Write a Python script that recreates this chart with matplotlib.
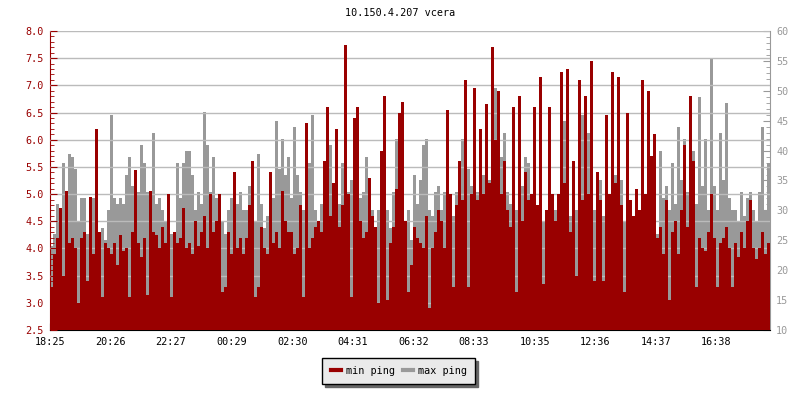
"""Recreate the ping chart for 10.150.4.207."""

import matplotlib

matplotlib.use("Agg")
import matplotlib.pyplot as plt
from matplotlib.lines import Line2D
from matplotlib.ticker import MultipleLocator, FormatStrFormatter
import numpy as np

RED = "#990000"
GRAY = "#999999"

TITLE = "10.150.4.207 vcera"
TICK_LABELS = ["18:25", "20:26", "22:27", "00:29", "02:30", "04:31",
               "06:32", "08:33", "10:35", "12:36", "14:37", "16:38"]
SPAN_MINUTES = 1440

# min ping (ms, left axis), one value per 6-minute slot
MIN_PING = [
    3.3, 3.9, 4.2, 4.75, 3.5, 5.05, 4.1, 4.2, 4.0, 3.0,
    4.2, 4.3, 3.4, 4.95, 3.9, 6.2, 4.3, 3.1, 4.1, 4.0,
    3.9, 4.1, 3.7, 4.25, 3.95, 4.0, 3.1, 4.3, 5.45, 4.1,
    3.85, 4.2, 3.15, 5.05, 4.3, 4.25, 4.0, 4.4, 4.1, 5.0,
    3.1, 4.3, 4.1, 4.2, 4.75, 4.0, 4.1, 3.9, 4.5, 4.05,
    4.3, 4.6, 4.0, 5.0, 4.3, 4.5, 5.0, 3.2, 3.3, 4.3,
    3.9, 5.4, 4.0, 4.2, 3.9, 4.2, 4.8, 5.6, 3.1, 3.3,
    4.4, 4.0, 3.9, 5.4, 4.1, 4.3, 4.0, 5.05, 4.5, 4.3,
    4.3, 3.9, 4.0, 4.8, 3.1, 6.3, 4.0, 4.2, 4.4, 4.5,
    4.3, 5.6, 6.6, 4.6, 5.2, 6.2, 4.4, 4.8, 7.75, 5.0,
    3.1, 6.4, 6.6, 4.5, 4.2, 4.3, 5.3, 4.6, 4.4, 3.0,
    5.8, 6.8, 3.05, 4.1, 4.4, 5.1, 6.5, 6.7, 4.5, 3.2,
    3.7, 4.4, 4.2, 4.1, 4.0, 4.6, 2.9, 4.0, 4.3, 4.7,
    4.5, 4.0, 6.55, 5.0, 3.3, 4.8, 5.6, 4.9, 7.1, 3.3,
    5.0, 6.95, 4.9, 6.2, 5.0, 6.65, 5.2, 7.7, 6.0, 6.9,
    5.0, 5.6, 4.7, 4.4, 6.6, 3.2, 6.8, 4.5, 5.4, 4.9,
    5.0, 6.6, 4.8, 7.15, 3.35, 4.7, 6.6, 5.0, 4.5, 5.0,
    7.25, 5.2, 7.3, 4.3, 5.6, 3.5, 7.1, 4.9, 6.8, 5.0,
    7.45, 3.4, 5.4, 4.9, 3.4, 6.45, 5.0, 7.25, 5.2, 7.15,
    4.8, 3.2, 6.5, 4.9, 4.6, 5.1, 4.7, 7.1, 5.0, 6.9,
    5.7, 6.1, 4.2, 4.4, 3.9, 4.9, 3.05, 4.3, 4.5, 3.9,
    4.7, 5.9, 4.4, 6.8, 5.6, 3.3, 4.2, 4.0, 3.95, 4.3,
    5.0, 4.2, 3.3, 4.1, 4.2, 4.4, 4.0, 3.3, 4.1, 3.85,
    4.3, 4.0, 4.5, 4.9, 4.0, 3.8, 4.0, 4.3, 3.9, 4.1,
]

# max ping (ms, right axis)
MAX_PING = [
    24, 26, 31, 30, 38, 33, 39.5, 39, 37, 28,
    32, 32, 26, 30, 32, 28, 24, 27, 25, 30,
    46, 32, 31, 32, 31, 36, 39, 34, 36, 33,
    41, 38, 33, 30, 43, 31, 32, 30, 28, 32,
    26, 21, 38, 32, 38, 40, 40, 36, 30, 33,
    31, 46.5, 41, 33, 39, 32, 30, 28, 26, 30,
    32, 29, 31, 33, 30, 30, 34, 28, 28, 39.5,
    31, 27, 29, 30, 32, 45, 37, 42, 36, 39,
    32, 44, 36, 33, 30, 25, 38, 46, 30, 28,
    31, 36, 29, 41, 33, 35, 31, 38, 37, 33,
    35, 33, 29, 32, 33, 39, 35, 30, 25, 30,
    28, 30, 30, 27, 33, 42, 35, 31, 28, 30,
    25, 36, 31, 35, 41, 42, 30, 29, 33, 34,
    30, 33, 30, 31, 29, 33, 38, 42, 34, 37,
    34, 38, 33, 33, 36, 31, 35, 39, 50.5, 35,
    39, 43, 33, 31, 30, 30, 32, 34, 39, 38,
    27, 25, 29, 30, 28, 28, 34, 27, 30, 29,
    35, 45, 33, 29, 27, 30, 35, 46, 49, 43,
    38, 30, 33, 35, 29, 30, 28, 35, 36, 44,
    35, 28, 30, 30, 29, 27, 26, 31, 27, 35,
    22, 30, 26, 40, 32, 34, 30, 38, 31, 44,
    35, 42, 33, 31, 40, 31, 49, 34, 42, 30,
    55.5, 34, 30, 43, 35, 48, 32, 30, 30, 28,
    33, 29, 32, 33, 30, 28, 33, 44, 30, 38,
]


def tick_minutes(labels):
    """Minutes after the first label, wrapping over midnight."""
    hours, minutes = labels[0].split(":")
    start = int(hours) * 60 + int(minutes)
    result = []
    for label in labels:
        hours, minutes = label.split(":")
        result.append((int(hours) * 60 + int(minutes) - start) % 1440)
    return result


def main() -> None:
    plt.rcParams["font.family"] = "DejaVu Sans Mono"
    font_size = 7.3

    fig = plt.figure(figsize=(8, 4), dpi=100)
    ax = fig.add_axes([0.0625, 0.175, 0.9, 0.7475])
    ax2 = ax.twinx()
    ax.set_zorder(ax2.get_zorder() + 1)
    ax.patch.set_visible(False)

    edges = np.linspace(0, SPAN_MINUTES, len(MIN_PING) + 1)

    ax2.stairs(MAX_PING, edges, baseline=10, fill=True, color=GRAY, linewidth=0)
    ax.stairs(MIN_PING, edges, baseline=2.5, fill=True, color=RED,
              linewidth=0, zorder=3)

    ax.set_xlim(0, SPAN_MINUTES)
    ax.set_ylim(2.5, 8.0)
    ax2.set_ylim(10, 60)

    ax.yaxis.set_major_locator(MultipleLocator(0.5))
    ax.yaxis.set_minor_locator(MultipleLocator(0.1))
    ax.yaxis.set_major_formatter(FormatStrFormatter("%.1f"))
    ax2.yaxis.set_major_locator(MultipleLocator(5))
    ax2.yaxis.set_minor_locator(MultipleLocator(1))

    ax.grid(axis="y", color="#bbbbbb", linewidth=1)
    ax.set_axisbelow(False)
    for line in ax.get_ygridlines():
        line.set_zorder(2)

    ax.set_xticks(tick_minutes(TICK_LABELS))
    ax.set_xticklabels(TICK_LABELS)

    ax.tick_params(axis="x", direction="in", length=5, color="black",
                   labelsize=font_size, pad=5)
    ax.tick_params(axis="y", which="major", direction="in", length=5,
                   color=RED, labelcolor=RED, labelsize=font_size, pad=4.5)
    ax.tick_params(axis="y", which="minor", direction="in", length=3, color=RED)
    ax2.tick_params(axis="y", which="major", direction="in", length=5,
                    color=GRAY, labelcolor=GRAY, labelsize=font_size, pad=4.5)
    ax2.tick_params(axis="y", which="minor", direction="in", length=3,
                    color=GRAY)

    for spine in ("top", "right"):
        ax.spines[spine].set_visible(False)
    ax.spines["left"].set_color(RED)
    ax.spines["bottom"].set_color("black")
    ax2.spines["top"].set_visible(False)
    ax2.spines["left"].set_visible(False)
    ax2.spines["bottom"].set_visible(False)
    ax2.spines["right"].set_color(GRAY)

    fig.text(0.5, 0.967, TITLE, ha="center", va="center", fontsize=font_size)

    handles = [
        Line2D([], [], color=RED, linewidth=3),
        Line2D([], [], color=GRAY, linewidth=3),
    ]
    legend = fig.legend(
        handles, ["min ping", "max ping"],
        loc="center", bbox_to_anchor=(0.4985, 0.0725), ncol=2,
        fontsize=font_size, frameon=True, fancybox=False,
        shadow={"color": "#666666", "alpha": 1.0},
        handlelength=1.0, handletextpad=0.5, columnspacing=0.8,
        borderpad=0.8, borderaxespad=0,
    )
    frame = legend.get_frame()
    frame.set_facecolor("#eaeaea")
    frame.set_edgecolor("black")
    frame.set_alpha(1.0)
    frame.set_linewidth(1.0)

    fig.savefig("out.png", dpi=100)
    plt.close(fig)


if __name__ == "__main__":
    main()
